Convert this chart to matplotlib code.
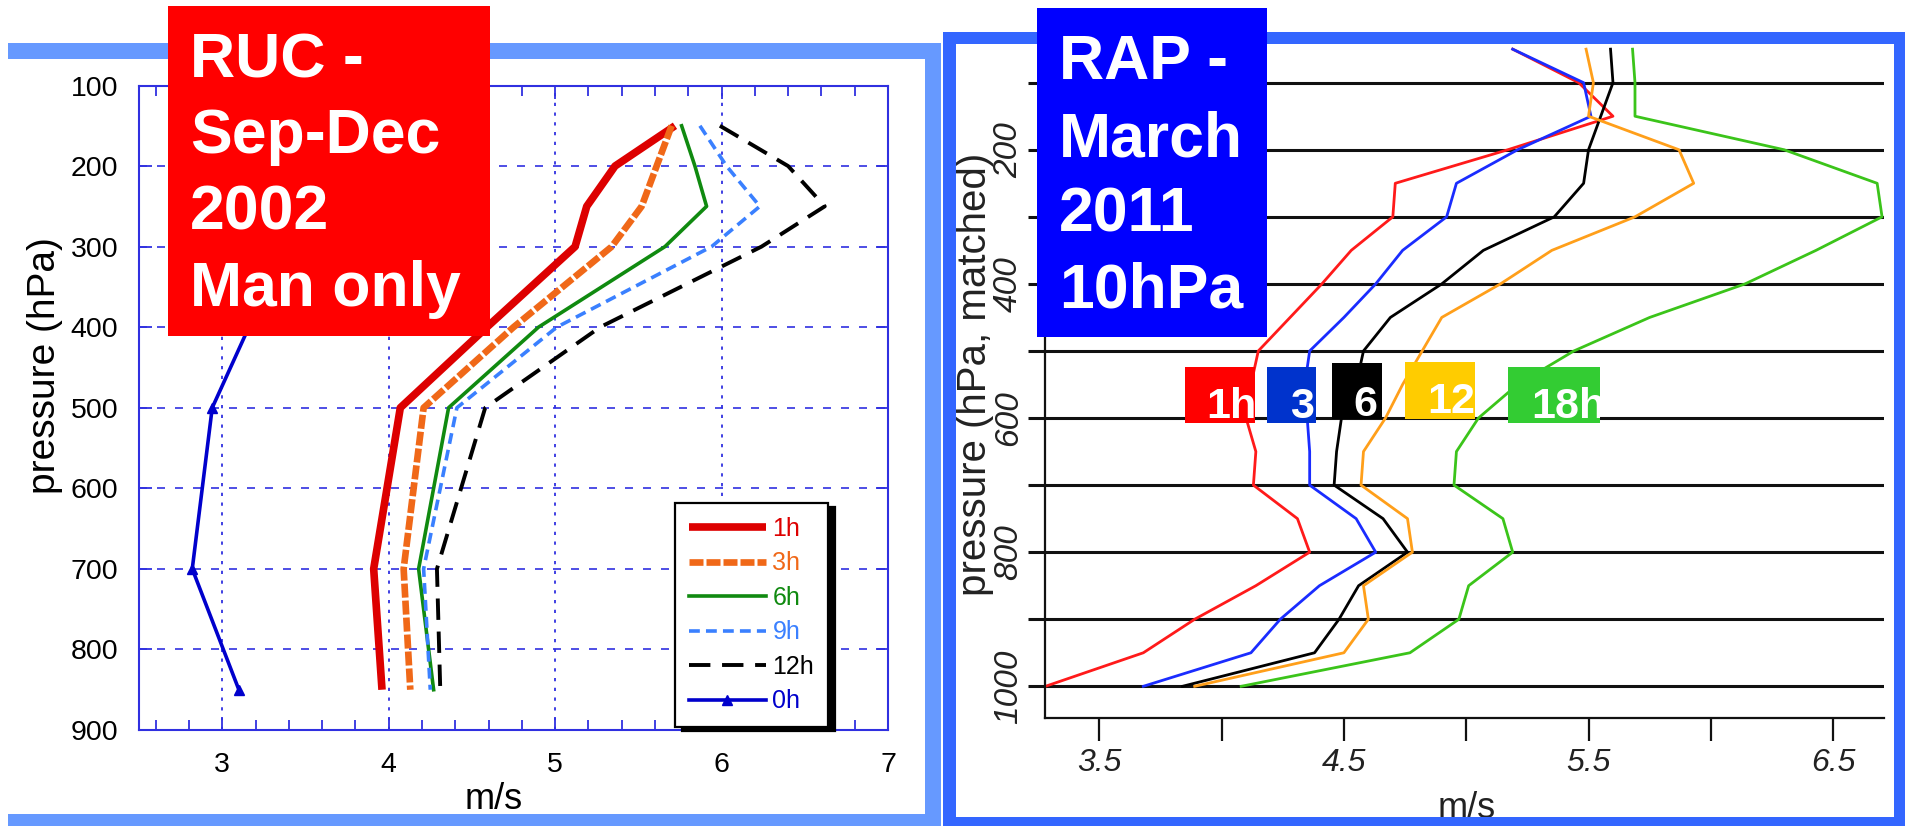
import numpy as np
import matplotlib
matplotlib.use("Agg")
import matplotlib.pyplot as plt
from matplotlib.patches import Rectangle

plt.rcParams['font.family'] = ['Liberation Sans', 'DejaVu Sans']

W, H = 1906, 826

# --- RUC, Sep-Dec 2002, mandatory levels only ---
ruc_p = [150, 200, 250, 300, 400, 500, 700, 850]
ruc_1h = [5.72, 5.36, 5.19, 5.12, 4.59, 4.07, 3.91, 3.96]
ruc_3h = [5.70, 5.61, 5.52, 5.34, 4.75, 4.21, 4.09, 4.13]
ruc_6h = [5.76, 5.84, 5.91, 5.66, 4.90, 4.36, 4.18, 4.27]
ruc_9h = [5.87, 6.03, 6.23, 5.94, 5.01, 4.41, 4.21, 4.25]
ruc_12h = [5.99, 6.40, 6.62, 6.24, 5.27, 4.58, 4.29, 4.31]
ruc_0h_p = [400, 500, 700, 850]
ruc_0h = [3.16, 2.94, 2.82, 3.10]

# --- RAP, March 2011, 10 hPa matched ---
rap_p = [50, 100, 150, 200, 250, 300, 350, 400, 450, 500,
         550, 600, 650, 700, 750, 800, 850, 900, 950, 1000]
rap_1h = [5.19, 5.46, 5.60, 5.17, 4.71, 4.70, 4.53, 4.41, 4.28, 4.15,
          4.12, 4.10, 4.14, 4.13, 4.31, 4.36, 4.14, 3.89, 3.68, 3.28]
rap_3h = [5.19, 5.48, 5.51, 5.21, 4.96, 4.92, 4.74, 4.63, 4.50, 4.36,
          4.34, 4.35, 4.36, 4.36, 4.55, 4.63, 4.40, 4.24, 4.12, 3.68]
rap_6h = [5.59, 5.60, 5.55, 5.50, 5.48, 5.36, 5.07, 4.90, 4.69, 4.58,
          4.55, 4.49, 4.47, 4.46, 4.66, 4.76, 4.56, 4.48, 4.38, 3.84]
rap_12h = [5.49, 5.52, 5.50, 5.87, 5.93, 5.69, 5.35, 5.14, 4.90, 4.82,
           4.74, 4.67, 4.58, 4.57, 4.76, 4.78, 4.58, 4.60, 4.50, 3.89]
rap_18h = [5.68, 5.69, 5.69, 6.30, 6.68, 6.70, 6.43, 6.14, 5.75, 5.44,
           5.21, 5.05, 4.96, 4.95, 5.15, 5.19, 5.01, 4.97, 4.77, 4.08]
rap_tags = ['1h', '3', '6', '12', '18h']

ruc_title = ['RUC -', 'Sep-Dec', '2002', 'Man only']
rap_title = ['RAP -', 'March', '2011', '10hPa']

fig = plt.figure(figsize=(W / 100, H / 100), dpi=100)


def box(x0, y0, x1, y1, color, z):
    r = Rectangle((x0 / W, 1 - y1 / H), (x1 - x0) / W, (y1 - y0) / H,
                  transform=fig.transFigure, facecolor=color,
                  edgecolor='none', zorder=z)
    fig.add_artist(r)
    return r


def ftext(x, y, s, **kw):
    return fig.text(x / W, 1 - y / H, s, va='baseline', **kw)


# ---------------- left panel ----------------
ax1 = fig.add_axes([139 / W, 1 - 730 / H, 749 / W, 644.5 / H])
ax1.set_xlim(2.5, 7)
ax1.set_ylim(900, 100)

ax1.plot(ruc_1h, ruc_p, color='#dd0000', lw=5.5, label='1h',
         solid_capstyle='butt')
ax1.plot(ruc_3h, ruc_p, color='#f06818', lw=4.8, dashes=(2.1, 0.45),
         dash_capstyle='butt', label='3h')
ax1.plot(ruc_6h, ruc_p, color='#108a10', lw=2.6, label='6h')
ax1.plot(ruc_9h, ruc_p, color='#3a80ff', lw=2.6, dashes=(3, 1.7), label='9h')
ax1.plot(ruc_12h, ruc_p, color='black', lw=2.8, dashes=(5.5, 3), label='12h')
ax1.plot(ruc_0h, ruc_0h_p, color='#0000cc', lw=2.6, marker='^', ms=7,
         label='0h')

blue_ax = '#3030e0'
ax1.set_xticks([3, 4, 5, 6, 7])
ax1.set_xticks(np.arange(2.6, 7.0, 0.2), minor=True)
ax1.set_yticks(range(100, 901, 100))
ax1.tick_params(which='both', direction='in', top=True, right=True,
                color=blue_ax, labelsize=20.5, width=1.3)
ax1.tick_params(which='major', length=9)
ax1.tick_params(which='minor', length=7)
ax1.tick_params(axis='x', pad=16)
ax1.tick_params(axis='y', pad=15)
for s in ax1.spines.values():
    s.set_color(blue_ax)
    s.set_linewidth(1.5)
ax1.grid(axis='x', color=blue_ax, lw=1.3, ls=(0, (1.8, 3.6)))
ax1.grid(axis='y', color=blue_ax, lw=1.2, ls=(0, (4.8, 6)))

ax1.set_xlabel('m/s', fontsize=26)
ax1.xaxis.set_label_coords(0.474, -0.08)
ax1.set_ylabel('pressure (hPa)', fontsize=28)
ax1.yaxis.set_label_coords(-0.102, 0.565)

leg = ax1.legend(loc='upper left', bbox_to_anchor=(0.7156, 0.352),
                 borderaxespad=0, fontsize=18, labelcolor='linecolor',
                 handlelength=3.1, handletextpad=0.25, labelspacing=0.42,
                 borderpad=0.55, fancybox=False, framealpha=1,
                 edgecolor='black',
                 shadow={'ox': 5, 'oy': -3, 'shade': 1.0, 'alpha': 1})
leg.get_frame().set_linewidth(1.6)

# ---------------- right panel ----------------
ax2 = fig.add_axes([1045 / W, 1 - 718.3 / H, 839 / W, 674.3 / H])
ax2.set_xlim(3.278, 6.708)
ax2.set_ylim(1047.7, 42.3)

rap_colors = ['#ff1a1a', '#1a2cff', 'black', '#ff9f1a', '#3bc41a']
for vals, c in zip([rap_1h, rap_3h, rap_6h, rap_12h, rap_18h], rap_colors):
    ax2.plot(vals, rap_p, color=c, lw=2.0)

ax2.spines[['top', 'right']].set_visible(False)
for s in ax2.spines.values():
    s.set_color('#111111')
    s.set_linewidth(1.6)

ax2.set_yticks(range(100, 1001, 100))
ax2.set_yticklabels([str(p) if p % 200 == 0 else '' for p in range(100, 1001, 100)],
                    rotation=90, va='center', style='italic', fontsize=24,
                    color='#222222')
ax2.set_xticks(np.arange(3.5, 6.51, 0.5))
ax2.set_xticklabels(['3.5', '', '4.5', '', '5.5', '', '6.5'],
                    style='italic', fontsize=23, color='#222222')
ax2.tick_params(axis='y', direction='out', length=12, width=2.2,
                color='#111111', pad=3)
ax2.tick_params(axis='x', direction='out', length=16.5, width=1.6,
                color='#111111', pad=5)
ax2.grid(axis='y', color='#111111', lw=2.2)

ax2.set_xlabel('m/s', fontsize=26, color='#222222')
ax2.xaxis.set_label_coords(0.503, -0.108)
ax2.set_ylabel('pressure (hPa, matched)', fontsize=29, color='#222222')
ax2.yaxis.set_label_coords(-0.061, 0.51)

# ---------------- panel frames ----------------
light = '#6699ff'
box(8, 43, 941, 59, light, 2)
box(925, 43, 941, 826, light, 2)
box(8, 814, 941, 826, light, 2)

deep = '#3366ff'
box(943, 32, 1906, 44, deep, 2)
box(943, 32, 956, 826, deep, 2)
box(1894, 32, 1906, 826, deep, 2)
box(943, 817, 1906, 826, deep, 2)

# ---------------- title boxes ----------------
box(168, 6, 490, 336, '#ff0000', 3)
for line, yb in zip(ruc_title, [77.5, 152.8, 230, 305.6]):
    ftext(190, yb, line, color='white', fontsize=45, fontweight='bold',
          zorder=4)

box(1037, 8, 1267, 337, '#0000ff', 3)
for line, yb in zip(rap_title, [79, 156.5, 231.8, 308]):
    ftext(1059, yb, line, color='white', fontsize=45, fontweight='bold',
          zorder=4)

# colour key tags on the RAP panel
tag_boxes = [(1185, 367, 1255.5, 423, '#ff0000', 1206.7, 418),
             (1267, 367, 1316, 423, '#0033cc', 1290, 418),
             (1332, 363, 1382, 419, 'black', 1353, 416.5),
             (1405, 362, 1475, 419, '#ffcc00', 1427.7, 413),
             (1508, 367, 1600, 423, '#33cc33', 1531, 418)]
for tag, (x0, y0, x1, y1, c, tx, ty) in zip(rap_tags, tag_boxes):
    r = box(x0, y0, x1, y1, c, 3)
    t = ftext(tx, ty, tag, color='white', fontsize=31, fontweight='bold',
              zorder=4)
    t.set_clip_path(r)

fig.savefig('out.png', dpi=100)
